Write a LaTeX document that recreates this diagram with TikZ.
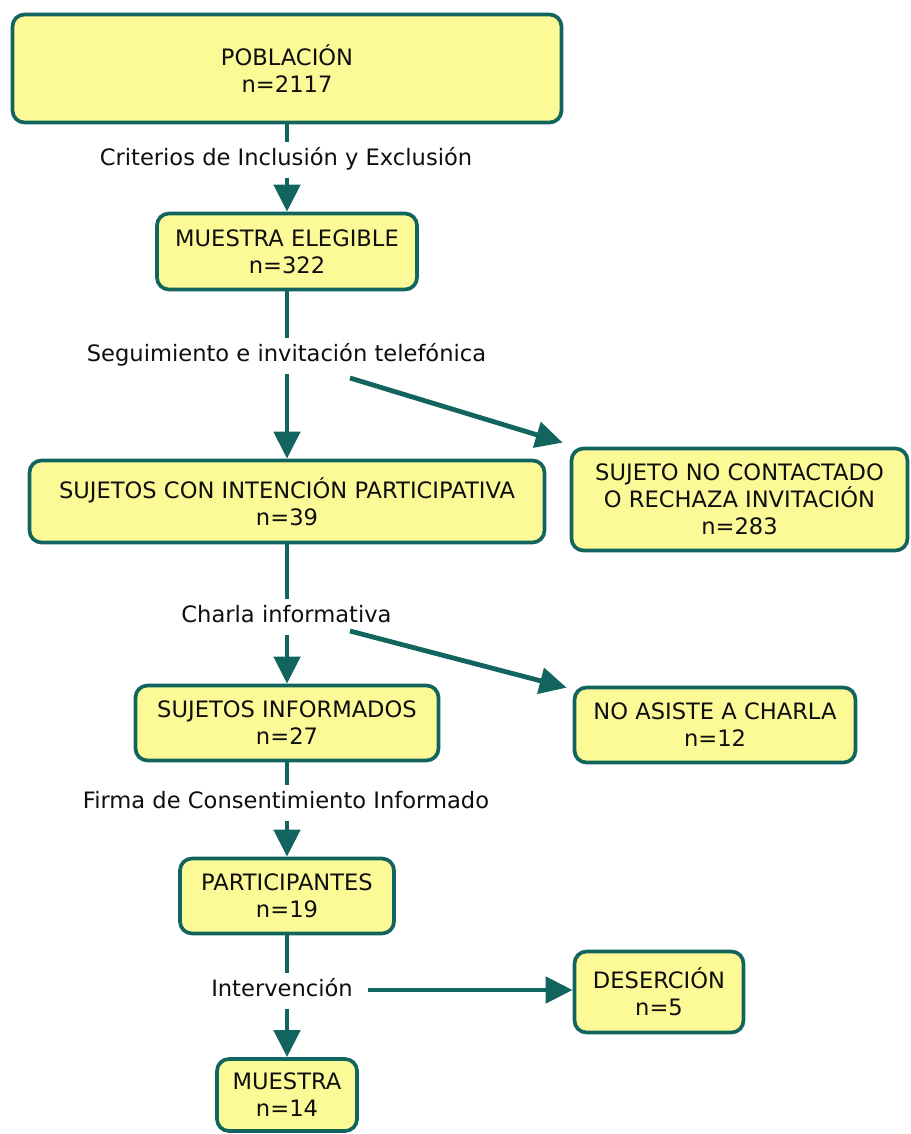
\documentclass[tikz,border=0pt]{standalone}
\usepackage{fontspec}
\setmainfont{DejaVu Sans}
\usetikzlibrary{arrows.meta}
\definecolor{boxfill}{RGB}{252,250,150}
\definecolor{tealc}{RGB}{18,100,95}
\definecolor{txt}{RGB}{15,15,15}
\tikzset{
  box/.style={draw=tealc, fill=boxfill, line width=3.7pt, rounded corners=12pt,
    align=center, text=txt, inner sep=0pt},
  lbl/.style={text=txt, inner xsep=0pt, inner ysep=7pt, text height=16pt, text depth=5pt},
  conn/.style={draw=tealc, line width=4.8pt},
  arr/.style={conn, -{Triangle[width=26pt,length=27pt]}}
}
\begin{document}
\begin{tikzpicture}[x=1pt, y=-1pt, font=\fontsize{22.6}{27}\selectfont]
\useasboundingbox (0,0) rectangle (910,1134);
% boxes
\node[box, minimum width=549pt, minimum height=108pt] (pob) at (287,68.5) {POBLACIÓN\\n=2117};
\node[box, minimum width=260pt, minimum height=76pt] (ele) at (287,251.5) {MUESTRA ELEGIBLE\\n=322};
\node[box, minimum width=515pt, minimum height=82pt] (int) at (287,501.5) {SUJETOS CON INTENCIÓN PARTICIPATIVA\\n=39};
\node[box, minimum width=336pt, minimum height=102pt] (noc) at (739.5,499.5) {SUJETO NO CONTACTADO\\O RECHAZA INVITACIÓN\\n=283};
\node[box, minimum width=303pt, minimum height=75pt] (inf) at (287,723) {SUJETOS INFORMADOS\\n=27};
\node[box, minimum width=281pt, minimum height=75pt] (noa) at (715,725) {NO ASISTE A CHARLA\\n=12};
\node[box, minimum width=214pt, minimum height=75pt] (par) at (287,896) {PARTICIPANTES\\n=19};
\node[box, minimum width=169pt, minimum height=81pt] (des) at (659,992) {DESERCIÓN\\n=5};
\node[box, minimum width=140pt, minimum height=72pt] (mue) at (287,1095) {MUESTRA\\n=14};
% labels
\node[lbl] (l1) at (286,160) {Criterios de Inclusión y Exclusión};
\node[lbl] (l2) at (286.5,356) {Seguimiento e invitación telefónica};
\node[lbl] (l3) at (286.5,617) {Charla informativa};
\node[lbl] (l4) at (286,803) {Firma de Consentimiento Informado};
\node[lbl] (l5) at (282,991) {Intervención};
% branch starts
\coordinate (d1) at (350,378);
\coordinate (d2) at (350,631);
\coordinate (d3) at (368,990);
% connectors
\draw[conn] (pob.south) -- (pob.south |- l1.north);
\draw[arr] (pob.south |- l1.south) -- (ele.north);
\draw[conn] (ele.south) -- (ele.south |- l2.north);
\draw[arr] (ele.south |- l2.south) -- (int.north);
\draw[arr] (d1) -- ([xshift=-7pt,yshift=4pt]noc.north west);
\draw[conn] (int.south) -- (int.south |- l3.north);
\draw[arr] (int.south |- l3.south) -- (inf.north);
\draw[arr] (d2) -- ([xshift=-6pt,yshift=-2pt]noa.north west);
\draw[conn] (inf.south) -- (inf.south |- l4.north);
\draw[arr] (inf.south |- l4.south) -- (par.north);
\draw[conn] (par.south) -- (par.south |- l5.north);
\draw[arr] (par.south |- l5.south) -- (mue.north);
\draw[arr] (d3) -- (d3 -| des.west);
\end{tikzpicture}
\end{document}
